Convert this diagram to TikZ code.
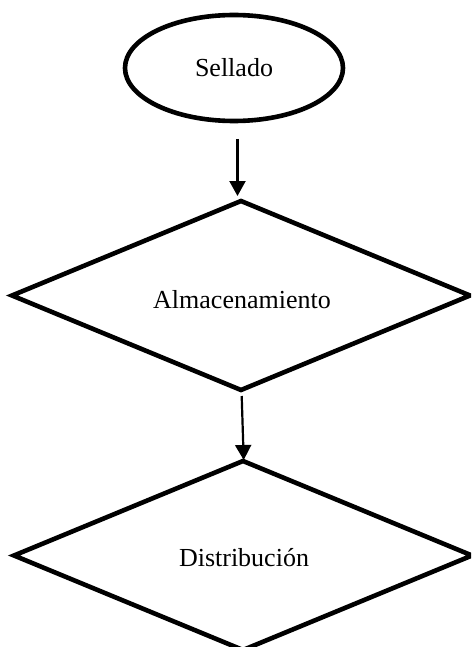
\documentclass[tikz,border=0pt]{standalone}
\usepackage{fontspec}
\setmainfont{Liberation Serif}
\usetikzlibrary{shapes.geometric,arrows.meta}

\tikzset{
  shapeline/.style={draw=black, line width=4.6pt, inner sep=0pt, outer sep=0pt,
    font=\fontsize{26}{30}\selectfont},
  terminal/.style={shapeline, ellipse, minimum width=218pt, minimum height=106pt},
  decision/.style={shapeline, diamond, minimum width=458pt, minimum height=189pt},
  label/.style={font=\fontsize{26}{30}\selectfont},
  flow/.style={line width=2.2pt, -{Triangle[length=15pt,width=16pt]}}
}

\begin{document}
\begin{tikzpicture}[x=1pt, y=-1pt]
  \useasboundingbox (0,0) rectangle (471,647);
  \clip (0,0) rectangle (471,647);

  % process shapes
  \node[terminal] (sellado) at (234,68) {Sellado};
  \node[decision] (almac) at (241,295.5) {};
  \node[label] (almactext) at (242,300) {Almacenamiento};
  \node[decision] (distrib) at (243,555.5) {};
  \node[label] (distribtext) at (244,558) {Distribución};

  % arrow end points just outside the shapes
  \coordinate (a1s) at (237.5,139);
  \coordinate (a1e) at (237.5,196);
  \coordinate (a2s) at (241.7,396);
  \coordinate (a2e) at (243.7,460);

  \draw[flow] (a1s) -- (a1e);
  \draw[flow] (a2s) -- (a2e);
\end{tikzpicture}
\end{document}
